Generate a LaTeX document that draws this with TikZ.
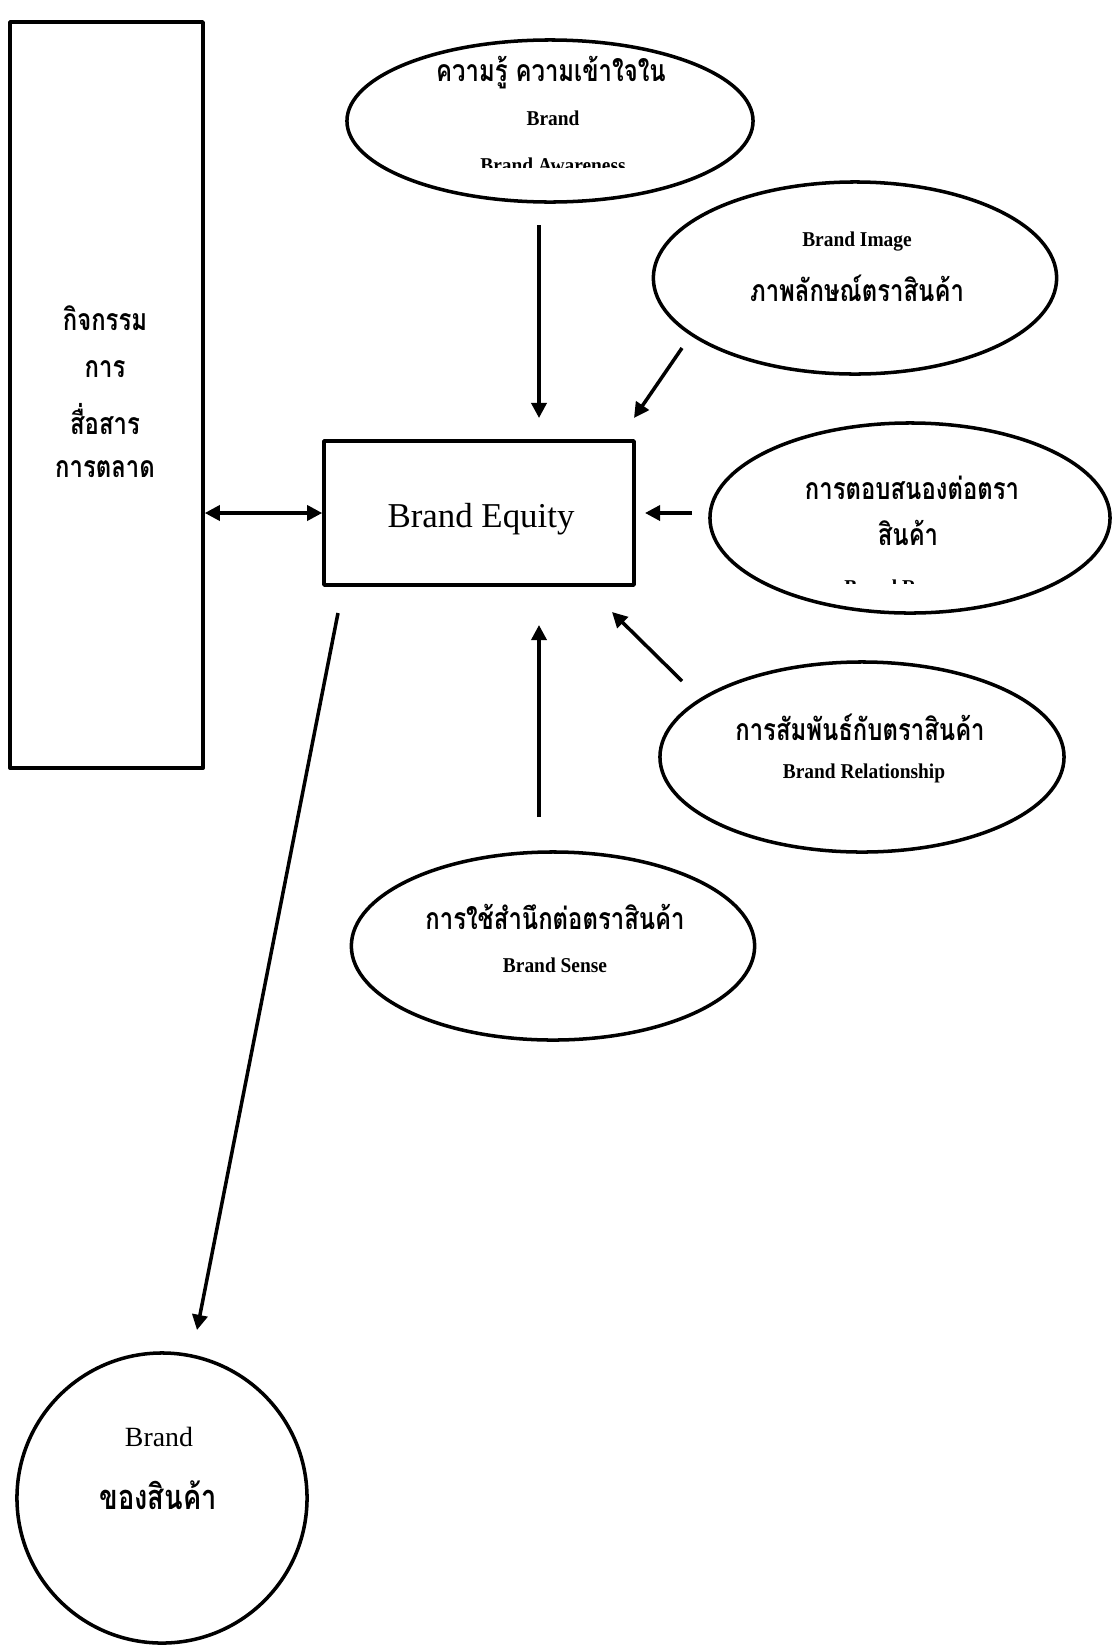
\documentclass[tikz,border=0pt]{standalone}
\usepackage{fontspec}
\setmainfont{Liberation Serif}
\newfontfamily\thaifont[Script=Thai, FakeStretch=0.79]{Loma}
\newfontfamily\narrowfont[FakeStretch=0.92]{Liberation Serif}
\usetikzlibrary{shapes.geometric,arrows.meta}
\begin{document}
\begin{tikzpicture}[x=0.025cm, y=-0.025cm, line width=2.5pt, line join=round,
    >={Triangle[length=0.38cm,width=0.38cm]},
    oval/.style={draw, ellipse, inner sep=0pt},
    thtext/.style={font=\thaifont\bfseries\fontsize{21.5}{24}\selectfont},
    entext/.style={font=\narrowfont\bfseries\fontsize{15}{17}\selectfont}]
  \useasboundingbox (0,0) rectangle (1118,1645);
  % boxes
  \node[draw, minimum width=4.825cm, minimum height=18.65cm] (comm) at (106.5,395) {};
  \node[draw, minimum width=7.75cm, minimum height=3.6cm] (equity) at (479,513) {};
  \node[font=\fontsize{24.8}{28}\selectfont] (equitytext) at (481,519) {Brand Equity};
  \node[thtext] (comm1) at (105,318) {กิจกรรม};
  \node[thtext] (comm2) at (105,369) {การ};
  \node[thtext] (comm3) at (105,419) {สื่อสาร};
  \node[thtext] (comm4) at (105,469) {การตลาด};
  % ellipses
  \node[oval, minimum width=10.15cm, minimum height=4.05cm] (aware) at (550,121) {};
  \node[oval, minimum width=10.08cm, minimum height=4.8cm] (image) at (855,278) {};
  \node[oval, minimum width=10cm, minimum height=4.75cm] (response) at (910,518) {};
  \node[oval, minimum width=10.1cm, minimum height=4.75cm] (relation) at (862,757) {};
  \node[oval, minimum width=10.08cm, minimum height=4.7cm] (sense) at (553,946) {};
  \node[draw, circle, minimum size=7.25cm, inner sep=0pt] (product) at (162,1498) {};
  % texts
  \node[thtext] (aware1) at (551,73) {ความรู้ ความเข้าใจใน};
  \node[entext] (aware2) at (553,118) {Brand};
  \begin{scope}
    \clip (400,140) rectangle (700,167);
    \node[entext, anchor=base] (aware3) at (553,172) {Brand Awareness};
  \end{scope}
  \node[entext] (image1) at (857,242) {Brand Image};
  \node[thtext] (image2) at (857,288) {ภาพลักษณ์ตราสินค้า};
  \node[thtext] (response1) at (912,488) {การตอบสนองต่อตรา};
  \node[thtext] (response2) at (908,533) {สินค้า};
  \begin{scope}
    \clip (800,560) rectangle (1020,583);
    \node[entext, anchor=base] (response3) at (912,594) {Brand Response};
  \end{scope}
  \node[thtext] (relation1) at (860,727) {การสัมพันธ์กับตราสินค้า};
  \node[entext] (relation2) at (864,773) {Brand Relationship};
  \node[thtext] (sense1) at (555,917) {การใช้สำนึกต่อตราสินค้า};
  \node[entext] (sense2) at (555,965) {Brand Sense};
  \node[font=\fontsize{19.8}{22}\selectfont] (product1) at (159,1437) {Brand};
  \node[thtext, font=\thaifont\bfseries\fontsize{24.5}{27}\selectfont] (product2) at (158,1495) {ของสินค้า};
  % arrows
  \coordinate (a1) at (539,225); \coordinate (a2) at (539,418);
  \coordinate (b1) at (682,348); \coordinate (b2) at (634,418);
  \coordinate (c1) at (692,513); \coordinate (c2) at (645,513);
  \coordinate (d1) at (682,681); \coordinate (d2) at (612,612);
  \coordinate (e1) at (539,817); \coordinate (e2) at (539,625);
  \coordinate (f1) at (338,613); \coordinate (f2) at (197,1330);
  \draw[->] (a1) -- (a2);
  \draw[->] (b1) -- (b2);
  \draw[->] (c1) -- (c2);
  \draw[->] (d1) -- (d2);
  \draw[->] (e1) -- (e2);
  \draw[->] (f1) -- (f2);
  \draw[<->] (comm.east |- equity.west) -- (equity.west);
\end{tikzpicture}
\end{document}
